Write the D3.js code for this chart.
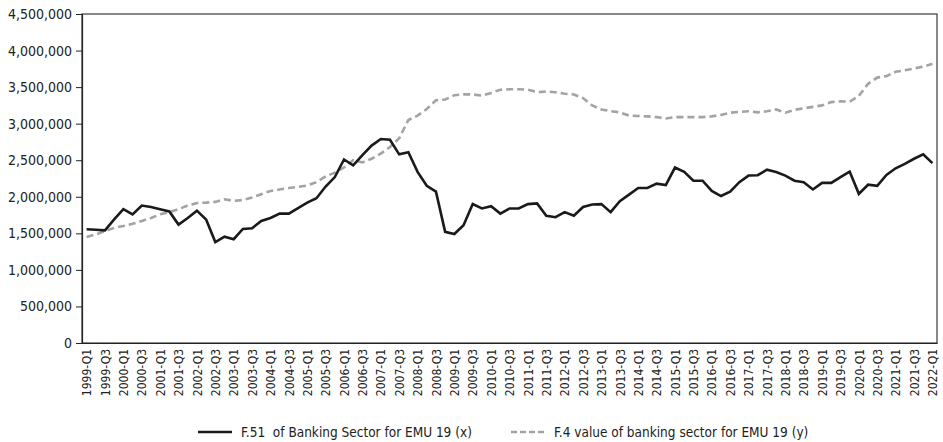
<!DOCTYPE html>
<html>
<head>
<meta charset="utf-8">
<script src="https://cdn.jsdelivr.net/npm/d3@7"></script>
<style>
  body { margin: 0; background: #fff; }
  text { font-family: "Liberation Sans Narrow", "DejaVu Sans Condensed", "Arial Narrow", sans-serif; font-stretch: condensed; }
</style>
</head>
<body>
<div id="chart"></div>
<script>
var width = 943,
    height = 442;

var margin = {top: 14, right: 6, bottom: 99, left: 82};

// quarters 1999-Q1 .. 2022-Q1
var years = d3.range(1999, 2023);
var quarters = [];
years.forEach(function(y) {
  [1, 2, 3, 4].forEach(function(q) {
    if (y < 2022 || q == 1) quarters.push(y + "-Q" + q);
  });
});

var yTicks = [0, 500000, 1000000, 1500000, 2000000, 2500000, 3000000, 3500000, 4000000, 4500000];

// F.51 of banking sector, millions
var f51 = [1.555, 1.55, 1.54, 1.69, 1.83, 1.76, 1.88, 1.86, 1.83, 1.80,
  1.62, 1.71, 1.81, 1.69, 1.38, 1.455, 1.42, 1.56, 1.57, 1.67,
  1.71, 1.77, 1.77, 1.845, 1.92, 1.98, 2.14, 2.27, 2.51, 2.43,
  2.57, 2.70, 2.79, 2.78, 2.58, 2.61, 2.34, 2.15, 2.07, 1.52,
  1.49, 1.61, 1.90, 1.84, 1.87, 1.77, 1.84, 1.84, 1.90, 1.91,
  1.74, 1.72, 1.79, 1.74, 1.86, 1.895, 1.90, 1.79, 1.94, 2.03,
  2.12, 2.12, 2.18, 2.16, 2.40, 2.34, 2.22, 2.22, 2.08, 2.01,
  2.07, 2.20, 2.29, 2.295, 2.37, 2.34, 2.29, 2.22, 2.20, 2.10,
  2.19, 2.19, 2.27, 2.345, 2.04, 2.165, 2.15, 2.30, 2.39, 2.45,
  2.52, 2.58, 2.46];

// F.4 value of banking sector, millions
var f4 = [1.45, 1.485, 1.53, 1.575, 1.60, 1.63, 1.67, 1.71, 1.76, 1.79,
  1.83, 1.88, 1.915, 1.92, 1.93, 1.965, 1.945, 1.955, 1.99, 2.035,
  2.08, 2.10, 2.12, 2.135, 2.155, 2.20, 2.28, 2.33, 2.40, 2.50,
  2.47, 2.52, 2.59, 2.68, 2.80, 3.05, 3.11, 3.20, 3.32, 3.33,
  3.39, 3.40, 3.40, 3.385, 3.42, 3.465, 3.47, 3.47, 3.465, 3.43,
  3.44, 3.43, 3.41, 3.40, 3.35, 3.25, 3.195, 3.17, 3.155, 3.11,
  3.105, 3.10, 3.09, 3.07, 3.09, 3.09, 3.09, 3.09, 3.10, 3.12,
  3.15, 3.16, 3.17, 3.155, 3.17, 3.195, 3.15, 3.19, 3.21, 3.23,
  3.25, 3.295, 3.305, 3.30, 3.38, 3.545, 3.63, 3.65, 3.71, 3.73,
  3.755, 3.78, 3.82];

var seriesNames = ["F.51  of Banking Sector for EMU 19 (x)", "F.4 value of banking sector for EMU 19 (y)"];

var svg = d3.select("#chart").append("svg")
    .attr("width", width)
    .attr("height", height);

var x = d3.scalePoint()
    .domain(quarters)
    .range([margin.left, width - margin.right])
    .padding(0.5);

var y = d3.scaleLinear()
    .domain([0, 4500000])
    .range([height - margin.bottom, margin.top]);

// frame
svg.append("rect")
    .attr("x", margin.left)
    .attr("y", margin.top)
    .attr("width", width - margin.left - margin.right)
    .attr("height", height - margin.top - margin.bottom)
    .attr("fill", "none")
    .attr("stroke", "#3a3a3a")
    .attr("stroke-width", 1.2);

var yAxis = svg.append("g")
    .attr("transform", "translate(" + margin.left + ",0)")
    .call(d3.axisLeft(y).tickValues(yTicks).tickSize(6).tickPadding(4).tickFormat(d3.format(",")));
yAxis.select(".domain").attr("stroke", "#222").attr("stroke-width", 1.2);
yAxis.selectAll(".tick line").attr("stroke", "#222");
yAxis.selectAll("text").attr("font-size", 14).attr("fill", "#222");

var xAxis = svg.append("g")
    .attr("transform", "translate(0," + (height - margin.bottom) + ")")
    .call(d3.axisBottom(x).tickValues(quarters.filter(function(q) { return /Q[13]$/.test(q); })).tickSize(0).tickPadding(6));
xAxis.select(".domain").attr("stroke", "#222").attr("stroke-width", 1.2);
xAxis.selectAll("text")
    .attr("font-size", 12)
    .attr("fill", "#222")
    .attr("transform", "rotate(-90)")
    .attr("text-anchor", "end")
    .attr("x", -6)
    .attr("y", 0)
    .attr("dy", "0.35em");

var line = d3.line()
    .x(function(d, i) { return x(quarters[i]); })
    .y(function(d) { return y(d * 1000000); });

svg.append("path")
    .datum(f4)
    .attr("d", line)
    .attr("fill", "none")
    .attr("stroke", "#a3a3a3")
    .attr("stroke-width", 2.6)
    .attr("stroke-dasharray", "7,4");

svg.append("path")
    .datum(f51)
    .attr("d", line)
    .attr("fill", "none")
    .attr("stroke", "#1a1a1a")
    .attr("stroke-width", 2.6);

// legend
var legend = svg.append("g").attr("transform", "translate(0,432)");
var lx = [198, 511];
seriesNames.forEach(function(name, i) {
  legend.append("line")
      .attr("x1", lx[i]).attr("x2", lx[i] + 34)
      .attr("y1", 0).attr("y2", 0)
      .attr("stroke", i == 0 ? "#1a1a1a" : "#a3a3a3")
      .attr("stroke-width", 2.6)
      .attr("stroke-dasharray", i == 0 ? null : "6,3");
  legend.append("text")
      .attr("x", lx[i] + 43)
      .attr("y", 0)
      .attr("dy", "0.35em")
      .attr("font-size", 13.5)
      .attr("fill", "#222")
      .style("white-space", "pre")
      .text(name);
});
</script>
</body>
</html>
